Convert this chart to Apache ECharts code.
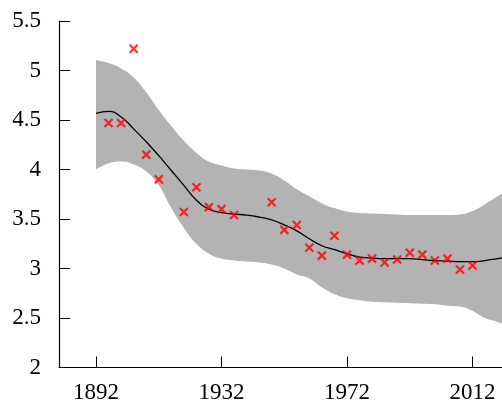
<!DOCTYPE html>
<html>
<head>
<meta charset="utf-8">
<script src="https://cdn.jsdelivr.net/npm/echarts@6/dist/echarts.min.js"></script>
<style>
html,body{margin:0;padding:0;background:#fff;}
#chart{width:502px;height:407px;}
</style>
</head>
<body>
<div id="chart"></div>
<script>
// Observed data (year, value)
var obsYears  = [1896,1900,1904,1908,1912,1920,1924,1928,1932,1936,1948,1952,1956,1960,1964,1968,1972,1976,1980,1984,1988,1992,1996,2000,2004,2008,2012];
var obsValues = [4.47,4.47,5.22,4.15,3.90,3.57,3.82,3.62,3.60,3.54,3.67,3.39,3.44,3.21,3.13,3.33,3.14,3.08,3.10,3.06,3.09,3.16,3.14,3.08,3.10,2.99,3.03];

// Fitted curve and band, sampled every 4 years
var curveYears = [1892,1896,1900,1904,1908,1912,1916,1920,1924,1928,1932,1936,1940,1944,1948,1952,1956,1960,1964,1968,1972,1976,1980,1984,1988,1992,1996,2000,2004,2008,2012,2016,2020,2024];
var meanValues = [4.566,4.587,4.53,4.41,4.28,4.14,3.99,3.84,3.69,3.60,3.565,3.55,3.54,3.52,3.49,3.44,3.38,3.30,3.23,3.19,3.15,3.115,3.105,3.10,3.10,3.10,3.09,3.08,3.075,3.07,3.07,3.08,3.10,3.12];
var upperValues = [5.105,5.075,5.02,4.93,4.78,4.60,4.44,4.29,4.17,4.08,4.04,4.01,4.00,3.99,3.96,3.89,3.80,3.73,3.66,3.61,3.575,3.56,3.555,3.55,3.545,3.54,3.54,3.54,3.54,3.545,3.58,3.65,3.73,3.80];
var lowerValues = [4.00,4.06,4.08,4.05,3.98,3.84,3.61,3.41,3.25,3.15,3.10,3.08,3.07,3.06,3.04,3.00,2.94,2.90,2.81,2.74,2.70,2.68,2.665,2.66,2.655,2.65,2.645,2.64,2.625,2.615,2.57,2.50,2.46,2.42];

var xTicks = [1892,1932,1972,2012];

var chart = echarts.init(document.getElementById('chart'), null, {renderer:'canvas'});
var font = 'Liberation Serif';

var lowerData = curveYears.map(function(y,i){return [y, lowerValues[i]];});
var upperData = curveYears.map(function(y,i){return [y, upperValues[i]];});
var meanData = curveYears.map(function(y,i){return [y, meanValues[i]];});
var obsData = obsYears.map(function(y,i){return [y, obsValues[i]];});

chart.setOption({
  animation:false,
  backgroundColor:'#ffffff',
  grid:{left:59, right:0, top:21, bottom:39.5, containLabel:false},
  xAxis:{
    type:'value', min:1880.2072, max:2021.402, z:10,
    axisLine:{show:true, onZero:false, lineStyle:{color:'#000', width:1.2}},
    axisTick:{show:true, inside:true, length:11, customValues:xTicks, lineStyle:{color:'#000', width:1}},
    axisLabel:{customValues:xTicks, color:'#000', fontFamily:font, fontSize:23, margin:14,
      formatter:function(v){return String(v);}},
    splitLine:{show:false}
  },
  yAxis:{
    type:'value', min:2, max:5.5, interval:0.5, z:10,
    axisLine:{show:true, onZero:false, lineStyle:{color:'#000', width:1.2}},
    axisTick:{show:true, inside:true, length:11, lineStyle:{color:'#000', width:1}},
    axisLabel:{color:'#000', fontFamily:font, fontSize:23, margin:18,
      formatter:function(v){return String(v);}},
    splitLine:{show:false}
  },
  series:[
    {type:'line', name:'upper', data:upperData, smooth:true, symbol:'none',
     lineStyle:{width:0, opacity:0}, areaStyle:{color:'#b3b3b3', opacity:1, origin:'start'}, silent:true, z:1},
    {type:'line', name:'lower', data:lowerData, smooth:true, symbol:'none',
     lineStyle:{width:0, opacity:0}, areaStyle:{color:'#ffffff', opacity:1, origin:'start'}, silent:true, z:1},
    {type:'line', name:'mean', data:meanData, smooth:true, symbol:'none',
     lineStyle:{color:'#000', width:1.3}, z:3},
    {type:'scatter', name:'obs', data:obsData, symbol:'path://M0,0L10,10M10,0L0,10', symbolSize:8,
     itemStyle:{color:'rgba(0,0,0,0)', borderColor:'#ff0000', borderWidth:2.2}, z:4}
  ]
});
</script>
</body>
</html>
